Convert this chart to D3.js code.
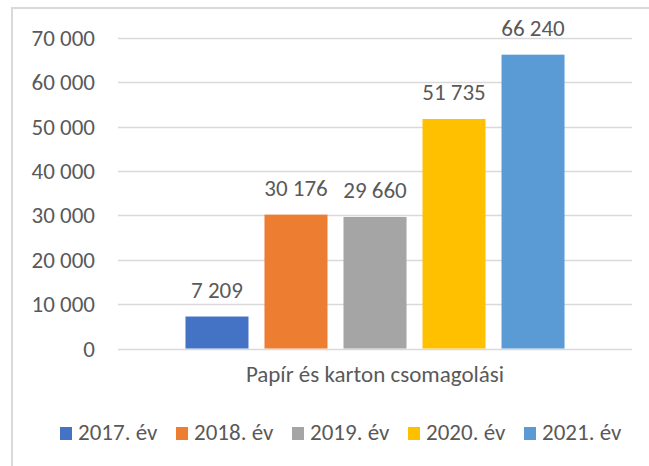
<!DOCTYPE html>
<html>
<head>
<meta charset="utf-8">
<script src="https://cdn.jsdelivr.net/npm/d3@7"></script>
<style>
  body { margin: 0; background: #fff; }
  svg text { font-family: Calibri, Carlito, Lato, sans-serif; fill: #595959; }
</style>
</head>
<body>
<div id="chart"></div>
<script>
// Adatok
const category = "Papír és karton csomagolási";
const years = ["2017. év", "2018. év", "2019. év", "2020. év", "2021. év"];
const values = [7209, 30176, 29660, 51735, 66240];
const colors = ["#4472c4", "#ed7d31", "#a5a5a5", "#ffc000", "#5b9bd5"];
const yTicks = [0, 10000, 20000, 30000, 40000, 50000, 60000, 70000];

const W = 649, H = 466;
const plot = {left: 118, right: 632, top: 38, bottom: 348.5};
const fs = "23px";

// magyar ezres tagolás (szóköz)
const fmt = v => d3.format(",")(v).replace(/,/g, " ");

const svg = d3.select("#chart").append("svg")
    .attr("width", W).attr("height", H);

// keret (csak bal és felső látszik)
svg.append("path")
    .attr("d", `M12,${H} L12,8 L${W},8`)
    .attr("fill", "none").attr("stroke", "#d9d9d9").attr("stroke-width", 2);

const y = d3.scaleLinear().domain([0, 70000]).range([plot.bottom, plot.top]);
const x0 = d3.scaleBand().domain([category]).range([plot.left, plot.right])
    .paddingInner(0).paddingOuter(0.178);
const x1 = d3.scaleBand().domain(years).range([0, x0.bandwidth()])
    .paddingInner(0.2025).paddingOuter(0);
const color = d3.scaleOrdinal().domain(years).range(colors);

// rácsvonalak
svg.append("g").selectAll("line").data(yTicks).enter().append("line")
    .attr("x1", plot.left).attr("x2", plot.right)
    .attr("y1", d => Math.round(y(d)) + 0.5).attr("y2", d => Math.round(y(d)) + 0.5)
    .attr("stroke", "#d9d9d9").attr("stroke-width", 1.3);

// tengelyfeliratok
svg.append("g").selectAll("text").data(yTicks).enter().append("text")
    .attr("x", 95).attr("y", d => y(d)).attr("dy", "0.35em")
    .attr("text-anchor", "end").style("font-size", fs)
    .text(d => fmt(d));

// oszlopok
const g = svg.append("g").attr("transform", `translate(${x0(category)},0)`);
const rows = years.map((k, i) => ({key: k, value: values[i]}));

g.selectAll("rect").data(rows).enter().append("rect")
    .attr("x", d => x1(d.key)).attr("width", x1.bandwidth())
    .attr("y", d => y(d.value)).attr("height", d => y(0) - y(d.value))
    .attr("fill", d => color(d.key));

g.selectAll(".lbl").data(rows).enter().append("text")
    .attr("class", "lbl")
    .attr("x", d => x1(d.key) + x1.bandwidth() / 2)
    .attr("y", d => y(d.value) - 19)
    .attr("text-anchor", "middle").style("font-size", fs)
    .text(d => fmt(d.value));

// kategória felirat
svg.append("text")
    .attr("x", x0(category) + x0.bandwidth() / 2).attr("y", 382)
    .attr("text-anchor", "middle").style("font-size", fs)
    .text(category);

// jelmagyarázat
const legend = svg.append("g").selectAll("g").data(years).enter().append("g")
    .attr("transform", (d, i) => `translate(${60 + i * 116},0)`);
legend.append("rect").attr("x", 0).attr("y", 427).attr("width", 12).attr("height", 13)
    .attr("fill", d => color(d));
legend.append("text").attr("x", 18).attr("y", 440).style("font-size", fs)
    .text(d => d);
</script>
</body>
</html>
